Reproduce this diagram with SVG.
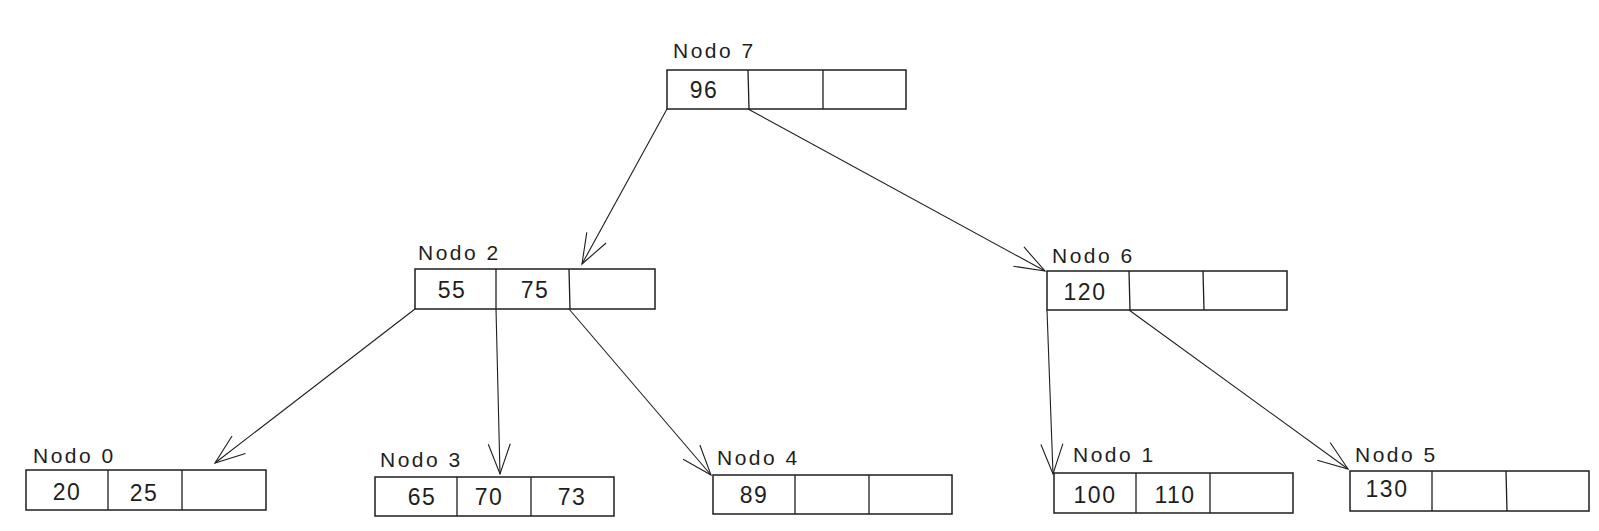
<svg xmlns="http://www.w3.org/2000/svg" width="1599" height="531" viewBox="0 0 1599 531">
<style>
  .box { fill: #ffffff; stroke: #1e1e1e; stroke-width: 1.5; }
  .div { stroke: #1e1e1e; stroke-width: 1.3; fill: none; }
  .lbl { font-family: "Liberation Sans", Arial, sans-serif; font-size: 21px; fill: #1e1e1e; letter-spacing: 2.5px; }
  .val { font-family: "Liberation Sans", Arial, sans-serif; font-size: 23px; fill: #1e1e1e; letter-spacing: 1.5px; text-anchor: middle; }
  .edge { stroke: #1e1e1e; stroke-width: 1.1; fill: none; marker-end: url(#arr); }
</style>
<defs>
  <marker id="arr" markerUnits="userSpaceOnUse" viewBox="-34 -16 38 32" refX="0" refY="0" markerWidth="38" markerHeight="32" orient="auto">
    <path d="M-30,-11 L0,0 L-30,11" fill="none" stroke="#1e1e1e" stroke-width="1.1"/>
  </marker>
</defs>
<rect width="1599" height="531" fill="#ffffff"/>

<g id="connectors">
  <line class="edge" x1="667" y1="109" x2="582" y2="264"/>
  <line class="edge" x1="748" y1="109" x2="1045" y2="271"/>
  <line class="edge" x1="415" y1="309" x2="215" y2="463"/>
  <line class="edge" x1="496" y1="309" x2="500" y2="474"/>
  <line class="edge" x1="569" y1="309" x2="711" y2="475"/>
  <line class="edge" x1="1047" y1="310" x2="1053" y2="474"/>
  <line class="edge" x1="1129" y1="310" x2="1348" y2="469"/>
</g>

<g id="node7">
  <text class="lbl" x="673" y="58">Nodo 7</text>
  <rect class="box" x="667" y="70" width="239" height="39"/>
  <line class="div" x1="748" y1="70" x2="749" y2="109"/>
  <line class="div" x1="823" y1="70" x2="823" y2="109"/>
  <text class="val" x="704" y="98">96</text>
</g>

<g id="node2">
  <text class="lbl" x="418" y="260">Nodo 2</text>
  <rect class="box" x="415" y="269" width="240" height="40"/>
  <line class="div" x1="496" y1="269" x2="496" y2="309"/>
  <line class="div" x1="569" y1="269" x2="570" y2="309"/>
  <text class="val" x="452" y="298">55</text>
  <text class="val" x="535" y="298">75</text>
</g>

<g id="node6">
  <text class="lbl" x="1052" y="263">Nodo 6</text>
  <rect class="box" x="1047" y="271" width="240" height="39"/>
  <line class="div" x1="1129" y1="271" x2="1130" y2="310"/>
  <line class="div" x1="1203" y1="271" x2="1204" y2="310"/>
  <text class="val" x="1085" y="300">120</text>
</g>

<g id="node0">
  <text class="lbl" x="33" y="463">Nodo 0</text>
  <rect class="box" x="26" y="470" width="240" height="40"/>
  <line class="div" x1="108" y1="470" x2="108" y2="510"/>
  <line class="div" x1="182" y1="470" x2="182" y2="510"/>
  <text class="val" x="67" y="500">20</text>
  <text class="val" x="144" y="501">25</text>
</g>

<g id="node3">
  <text class="lbl" x="380" y="467">Nodo 3</text>
  <rect class="box" x="375" y="477" width="239" height="39"/>
  <line class="div" x1="457" y1="477" x2="457" y2="516"/>
  <line class="div" x1="531" y1="477" x2="531" y2="516"/>
  <text class="val" x="422" y="505">65</text>
  <text class="val" x="489" y="505">70</text>
  <text class="val" x="572" y="505">73</text>
</g>

<g id="node4">
  <text class="lbl" x="717" y="465">Nodo 4</text>
  <rect class="box" x="713" y="475" width="239" height="39"/>
  <line class="div" x1="795" y1="475" x2="795" y2="514"/>
  <line class="div" x1="869" y1="475" x2="869" y2="514"/>
  <text class="val" x="754" y="503">89</text>
</g>

<g id="node1">
  <text class="lbl" x="1073" y="462">Nodo 1</text>
  <rect class="box" x="1054" y="473" width="239" height="40"/>
  <line class="div" x1="1136" y1="473" x2="1136" y2="513"/>
  <line class="div" x1="1210" y1="473" x2="1210" y2="513"/>
  <text class="val" x="1095" y="503">100</text>
  <text class="val" x="1175" y="503">110</text>
</g>

<g id="node5">
  <text class="lbl" x="1355" y="462">Nodo 5</text>
  <rect class="box" x="1350" y="471" width="239" height="40"/>
  <line class="div" x1="1432" y1="471" x2="1432" y2="511"/>
  <line class="div" x1="1506" y1="471" x2="1507" y2="511"/>
  <text class="val" x="1387" y="497">130</text>
</g>
</svg>
